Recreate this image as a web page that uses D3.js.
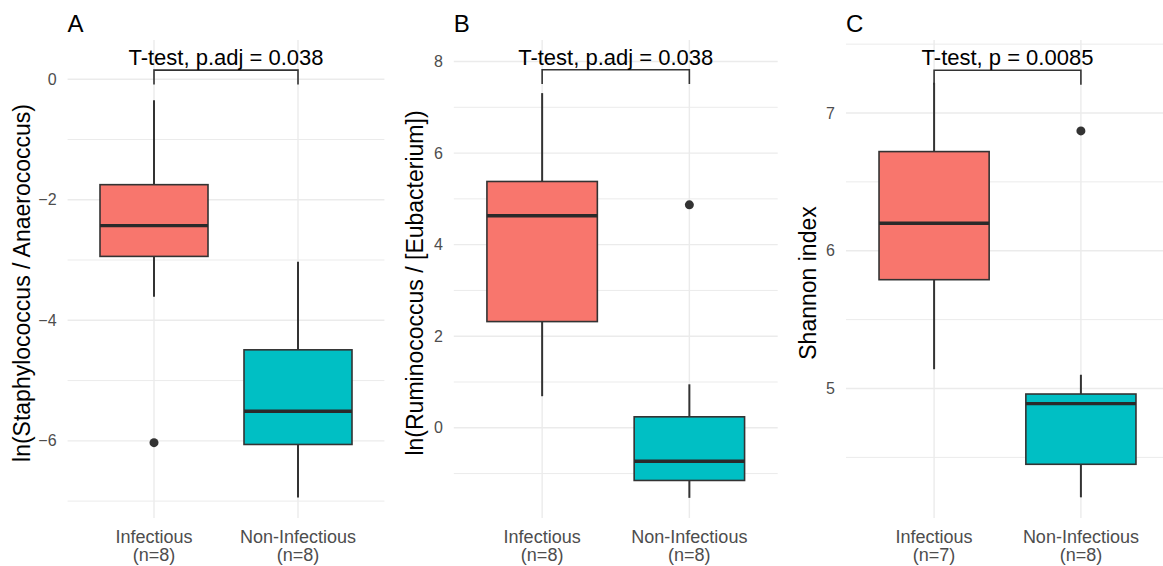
<!DOCTYPE html>
<html lang="en">
<head>
<meta charset="UTF-8">
<title>Boxplots</title>
<script src="https://cdn.jsdelivr.net/npm/d3@7"></script>
<style>
  body { margin: 0; background: #fff; }
  text { font-family: "Liberation Sans", Arial, sans-serif; }
  .grid line { stroke: #ebebeb; }
</style>
</head>
<body>
<script>
// categories
var groups = ["Infectious", "Non-Infectious"];
var groupColors = ["#F8766D", "#00BFC4"];

// one entry per panel
var panelLetters = ["A", "B", "C"];
var yTitles = ["ln(Staphylococcus / Anaerococcus)", "ln(Ruminococcus / [Eubacterium])", "Shannon index"];
var testLabels = ["T-test, p.adj = 0.038", "T-test, p.adj = 0.038", "T-test, p = 0.0085"];
var nCounts = [[8, 8], [8, 8], [7, 8]];

// box statistics per panel, [Infectious, Non-Infectious]
var whiskerLow  = [[-3.61, -6.94], [0.69, -1.53], [5.14, 4.21]];
var q1          = [[-2.94, -6.06], [2.32, -1.15], [5.79, 4.45]];
var medians     = [[-2.43, -5.51], [4.63, -0.73], [6.20, 4.89]];
var q3          = [[-1.75, -4.49], [5.38, 0.24], [6.72, 4.96]];
var whiskerHigh = [[-0.35, -3.03], [7.31, 0.95], [7.22, 5.10]];
// outliers: [group index, value]
var outliers = [[[0, -6.03]], [[1, 4.87]], [[1, 6.87]]];

// bracket height and axes
var bracketY = [0.15, 7.82, 7.31];
var yDomains = [[-7.28, 0.65], [-1.97, 8.47], [4.06, 7.53]];
var majorTicks = [[-6, -4, -2, 0], [0, 2, 4, 6, 8], [5, 6, 7]];
var minorTicks = [[-7, -5, -3, -1], [-1, 1, 3, 5, 7], [4.5, 5.5, 6.5, 7.5]];

var W = 1163, H = 566;
var svg = d3.select("body").append("svg")
    .attr("width", W)
    .attr("height", H);

// panel placement (left of plot area, right of plot area, title x)
var panelX = [[67.6, 384.4, 22], [453.8, 777.7, 415], [846, 1169, 808]];
var yTop = 40, yBottom = 518;

panelX.forEach(function(px, p) {
    var x = d3.scalePoint().domain(groups).range([px[0], px[1]]).padding(0.6);
    var y = d3.scaleLinear().domain(yDomains[p]).range([yBottom, yTop]);
    var bw = x.step() * 0.75;

    var g = svg.append("g");

    // grid
    var grid = g.append("g").attr("class", "grid");
    grid.selectAll(".minor").data(minorTicks[p].filter(function(v){ return v > yDomains[p][0] && v < yDomains[p][1]; }))
        .enter().append("line")
        .attr("x1", px[0]).attr("x2", Math.min(px[1], W))
        .attr("y1", function(d){ return y(d); }).attr("y2", function(d){ return y(d); })
        .attr("stroke-width", 1);
    grid.selectAll(".major").data(majorTicks[p])
        .enter().append("line")
        .attr("x1", px[0]).attr("x2", Math.min(px[1], W))
        .attr("y1", function(d){ return y(d); }).attr("y2", function(d){ return y(d); })
        .attr("stroke-width", 1.4);
    grid.selectAll(".vert").data(groups)
        .enter().append("line")
        .attr("x1", function(d){ return x(d); }).attr("x2", function(d){ return x(d); })
        .attr("y1", yTop).attr("y2", yBottom)
        .attr("stroke-width", 1.4);

    // y tick labels
    g.selectAll(".ytick").data(majorTicks[p])
        .enter().append("text")
        .attr("x", px[0] - 11)
        .attr("y", function(d){ return y(d); })
        .attr("dy", "0.35em")
        .attr("text-anchor", "end")
        .attr("font-size", 16)
        .attr("fill", "#4d4d4d")
        .text(function(d){ return d < 0 ? "\u2212" + Math.abs(d) : d; });

    // x tick labels
    var xl = g.selectAll(".xtick").data(groups)
        .enter().append("text")
        .attr("text-anchor", "middle")
        .attr("font-size", 18)
        .attr("fill", "#4d4d4d");
    xl.append("tspan")
        .attr("x", function(d){ return x(d); })
        .attr("y", 543)
        .text(function(d){ return d; });
    xl.append("tspan")
        .attr("x", function(d){ return x(d); })
        .attr("y", 561)
        .text(function(d, i){ return "(n=" + nCounts[p][i] + ")"; });

    // y axis title
    g.append("text")
        .attr("transform", "translate(" + px[2] + "," + 283 + ") rotate(-90)")
        .attr("text-anchor", "middle")
        .attr("dy", "0.35em")
        .attr("font-size", 23)
        .attr("fill", "#000")
        .text(yTitles[p]);

    // panel letter
    g.append("text")
        .attr("x", px[0])
        .attr("y", 32)
        .attr("font-size", 24)
        .attr("fill", "#000")
        .text(panelLetters[p]);

    // boxes
    var boxes = g.selectAll(".box").data(groups)
        .enter().append("g");
    boxes.append("line")
        .attr("x1", function(d){ return x(d); }).attr("x2", function(d){ return x(d); })
        .attr("y1", function(d, i){ return y(whiskerHigh[p][i]); })
        .attr("y2", function(d, i){ return y(q3[p][i]); })
        .attr("stroke", "#333").attr("stroke-width", 2);
    boxes.append("line")
        .attr("x1", function(d){ return x(d); }).attr("x2", function(d){ return x(d); })
        .attr("y1", function(d, i){ return y(q1[p][i]); })
        .attr("y2", function(d, i){ return y(whiskerLow[p][i]); })
        .attr("stroke", "#333").attr("stroke-width", 2);
    boxes.append("rect")
        .attr("x", function(d){ return x(d) - bw / 2; })
        .attr("width", bw)
        .attr("y", function(d, i){ return y(q3[p][i]); })
        .attr("height", function(d, i){ return y(q1[p][i]) - y(q3[p][i]); })
        .attr("fill", function(d, i){ return groupColors[i]; })
        .attr("stroke", "#333").attr("stroke-width", 1.6);
    boxes.append("line")
        .attr("x1", function(d){ return x(d) - bw / 2; })
        .attr("x2", function(d){ return x(d) + bw / 2; })
        .attr("y1", function(d, i){ return y(medians[p][i]); })
        .attr("y2", function(d, i){ return y(medians[p][i]); })
        .attr("stroke", "#2a2a2a").attr("stroke-width", 3.4);

    g.selectAll(".outlier").data(outliers[p])
        .enter().append("circle")
        .attr("cx", function(d){ return x(groups[d[0]]); })
        .attr("cy", function(d){ return y(d[1]); })
        .attr("r", 4.5)
        .attr("fill", "#333");

    // significance bracket
    var tip = 0.03 * (yDomains[p][1] - yDomains[p][0]);
    var bx0 = x(groups[0]), bx1 = x(groups[1]);
    g.append("path")
        .attr("d", "M" + bx0 + "," + y(bracketY[p] - tip) + "V" + y(bracketY[p]) +
                   "H" + bx1 + "V" + y(bracketY[p] - tip))
        .attr("fill", "none")
        .attr("stroke", "#333")
        .attr("stroke-width", 1.6);
    g.append("text")
        .attr("x", (bx0 + bx1) / 2)
        .attr("y", y(bracketY[p]) - 5)
        .attr("text-anchor", "middle")
        .attr("font-size", 22)
        .attr("fill", "#000")
        .text(testLabels[p]);
});
</script>
</body>
</html>
